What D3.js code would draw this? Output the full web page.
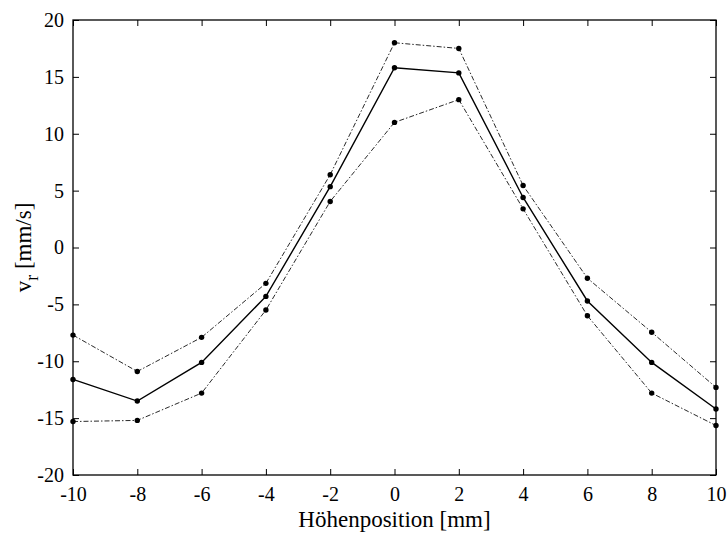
<!DOCTYPE html>
<html>
<head>
<meta charset="utf-8">
<script src="https://cdn.jsdelivr.net/npm/d3@7"></script>
<style>
  html, body { margin: 0; padding: 0; background: #fff; }
</style>
</head>
<body>
<div id="chart"></div>
<script>
// positions along the height [mm]
var positions = [-10, -8, -6, -4, -2, 0, 2, 4, 6, 8, 10];
// radial velocity v_r [mm/s]: mean and upper/lower bounds
var upperValues = [-7.7, -10.9, -7.9, -3.15, 6.4, 18.0, 17.5, 5.45, -2.7, -7.45, -12.3];
var meanValues  = [-11.6, -13.5, -10.1, -4.3, 5.35, 15.8, 15.35, 4.4, -4.7, -10.1, -14.2];
var lowerValues = [-15.3, -15.2, -12.8, -5.5, 4.05, 11.0, 13.0, 3.4, -6.0, -12.8, -15.65];
var xTicks = [-10, -8, -6, -4, -2, 0, 2, 4, 6, 8, 10];
var yTicks = [-20, -15, -10, -5, 0, 5, 10, 15, 20];

var FONT = '"Liberation Serif"';
var width = 728, height = 534;
var margin = {left: 73, right: 12, top: 20, bottom: 59};

var svg = d3.select('#chart').append('svg')
    .attr('width', width)
    .attr('height', height);

var x = d3.scaleLinear().domain([-10, 10]).range([margin.left, width - margin.right]);
var y = d3.scaleLinear().domain([-20, 20]).range([height - margin.bottom, margin.top]);

// plain hyphen instead of unicode minus
var fmt = function(d) { return String(d); };

function styleAxis(g, showLabels) {
  g.attr('font-family', null);
  g.select('.domain').remove();
  g.selectAll('.tick line').attr('stroke', '#000').attr('stroke-width', 1);
  if (!showLabels) g.selectAll('.tick text').remove();
  else g.selectAll('.tick text')
      .style('font-family', FONT)
      .style('font-size', '20px')
      .attr('fill', '#000');
}

// bottom / left with labels, top / right ticks only (ticks point inward)
svg.append('g')
    .attr('transform', 'translate(0,' + y(-20) + ')')
    .call(d3.axisBottom(x).tickValues(xTicks).tickFormat(fmt).tickSizeInner(-6).tickSizeOuter(0).tickPadding(12))
    .call(styleAxis, true);
svg.append('g')
    .attr('transform', 'translate(0,' + y(20) + ')')
    .call(d3.axisTop(x).tickValues(xTicks).tickSizeInner(-6).tickSizeOuter(0))
    .call(styleAxis, false);
svg.append('g')
    .attr('transform', 'translate(' + x(-10) + ',0)')
    .call(d3.axisLeft(y).tickValues(yTicks).tickFormat(fmt).tickSizeInner(-6).tickSizeOuter(0).tickPadding(9))
    .call(styleAxis, true);
svg.append('g')
    .attr('transform', 'translate(' + x(10) + ',0)')
    .call(d3.axisRight(y).tickValues(yTicks).tickSizeInner(-6).tickSizeOuter(0))
    .call(styleAxis, false);

// frame
svg.append('rect')
    .attr('x', x(-10)).attr('y', y(20))
    .attr('width', x(10) - x(-10)).attr('height', y(-20) - y(20))
    .attr('fill', 'none').attr('stroke', '#000').attr('stroke-width', 1.3);

var series = [
  {values: upperValues, dash: '5,2,1.5,2', width: 0.9, color: '#111'},
  {values: lowerValues, dash: '5,2,1.5,2', width: 0.9, color: '#111'},
  {values: meanValues, dash: null, width: 1.4, color: '#000'}
];

var line = d3.line()
    .x(function(d) { return x(d.x); })
    .y(function(d) { return y(d.y); });

series.forEach(function(s) {
  var pts = positions.map(function(p, i) { return {x: p, y: s.values[i]}; });
  svg.append('path')
      .datum(pts)
      .attr('d', line)
      .attr('fill', 'none')
      .attr('stroke', s.color)
      .attr('stroke-width', s.width)
      .attr('stroke-dasharray', s.dash);
  svg.selectAll(null)
      .data(pts).enter().append('circle')
      .attr('cx', function(d) { return x(d.x); })
      .attr('cy', function(d) { return y(d.y); })
      .attr('r', 2.7)
      .attr('fill', '#000');
});

// axis titles
svg.append('text')
    .attr('x', (x(-10) + x(10)) / 2)
    .attr('y', 527)
    .attr('text-anchor', 'middle')
    .style('font-family', FONT)
    .style('font-size', '23px')
    .text('Höhenposition [mm]');

var yt = svg.append('text')
    .attr('transform', 'translate(31,' + ((y(20) + y(-20)) / 2) + ') rotate(-90)')
    .attr('text-anchor', 'middle')
    .style('font-family', FONT)
    .style('font-size', '23px');
yt.append('tspan').text('v');
yt.append('tspan').attr('dy', 7).style('font-size', '18px').text('r');
yt.append('tspan').attr('dy', -7).text(' [mm/s]');
</script>
</body>
</html>
